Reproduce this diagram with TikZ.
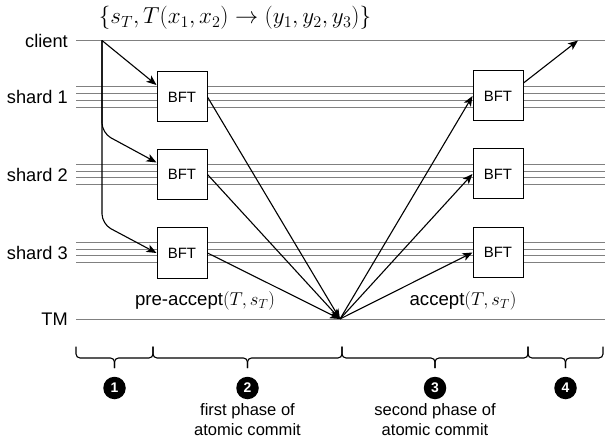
\RequirePackage{fix-cm}
\documentclass[tikz,border=0pt]{standalone}
\usepackage{fontspec}
\setmainfont{Liberation Sans}
\usetikzlibrary{arrows.meta,calc}
\begin{document}
\begin{tikzpicture}[x=1bp,y=-1bp,
  lane/.style={draw=black!50, line width=1bp},
  bft/.style={draw, line width=1bp, fill=white, minimum width=50bp, minimum height=50bp, inner sep=0pt, font=\fontsize{15}{18}\selectfont},
  msg/.style={draw, line width=1.1bp, -{Stealth[length=10bp,width=8bp,inset=2.5bp]}},
  lbl/.style={anchor=east, font=\fontsize{18.3}{20}\selectfont, inner sep=0pt},
  phase/.style={font=\fontsize{18.7}{22}\selectfont, inner sep=0pt},
  num/.style={circle, fill=black, text=white, minimum size=22.5bp, inner sep=0pt, font=\fontsize{14}{14}\selectfont\bfseries},
  note/.style={align=center, font=\fontsize{16.6}{19.5}\selectfont, inner sep=0pt},
  brc/.style={draw, line width=1.1bp, rounded corners=4bp}
]
\useasboundingbox (0,0) rectangle (605,438);

% lanes
\draw[lane] (76,40.5) -- (605,40.5);
\draw[lane] (76,319) -- (605,319);
\foreach \y in {97,174.5,252.5}{
  \foreach \d in {-10.2,-3.4,3.4,10.2}{
    \draw[lane] (76,\y+\d) -- (605,\y+\d);
  }
}
\node[lbl] (lc) at (68,40.5) {client};
\node[lbl] (ls1) at (68,97) {shard 1};
\node[lbl] (ls2) at (68,174.5) {shard 2};
\node[lbl] (ls3) at (68,252.5) {shard 3};
\node[lbl] (ltm) at (68,319) {TM};

% boxes
\node[bft] (l1) at (182,97) {BFT};
\node[bft] (l2) at (182,174.5) {BFT};
\node[bft] (l3) at (182,253) {BFT};
\node[bft] (r1) at (498,96) {BFT};
\node[bft] (r2) at (498,174) {BFT};
\node[bft] (r3) at (498,252.5) {BFT};

% points
\coordinate (c) at (102,40.5);
\coordinate (k2) at (102,133);
\coordinate (k3) at (102,224);
\coordinate (tm) at (340,319);
\coordinate (out) at (578,40.5);

% client requests
\draw[msg] (c) -- ($(l1.west)+(0,-12)$);
\draw[msg, rounded corners=10bp] (c) -- (k2) -- ($(l2.west)+(0,-12)$);
\draw[msg, rounded corners=10bp] (c) -- (k3) -- (l3.west);

% pre-accept
\draw[msg] (l1.east) -- (tm);
\draw[msg] (l2.east) -- (tm);
\draw[msg] (l3.east) -- (tm);

% accept
\draw[msg] (tm) -- (r1.west);
\draw[msg] (tm) -- (r2.west);
\draw[msg] (tm) -- (r3.west);

% reply
\draw[msg] ($(r1.east)+(0,-13)$) -- (out);

% labels
\node[phase] (pa) at (205,301) {pre-accept$(T,s_T)$};
\node[phase] (ac) at (463,301) {accept$(T,s_T)$};
\node[font=\fontsize{23.2}{26}\selectfont, inner sep=0pt] (top) at (235,18) {$\Big\{s_T, T(x_1,x_2)\to(y_1,y_2,y_3)\Big\}$};

% braces
\foreach \a/\b in {76/153,153/342,342/528,528/603}{
  \pgfmathsetmacro\m{(\a+\b)/2}
  \draw[brc] (\a,346.5) -- (\a,358) -- (\m,358) -- (\m,368);
  \draw[brc] (\b,346.5) -- (\b,358) -- (\m,358) -- (\m,368);
}
\node[num] (n1) at (114.5,388) {1};
\node[num] (n2) at (247.5,388) {2};
\node[num] (n3) at (435,388) {3};
\node[num] (n4) at (565.5,388) {4};
\node[note] (t2) at (247.5,419.5) {first phase of\\atomic commit};
\node[note] (t3) at (435,419.5) {second phase of\\atomic commit};
\end{tikzpicture}
\end{document}
